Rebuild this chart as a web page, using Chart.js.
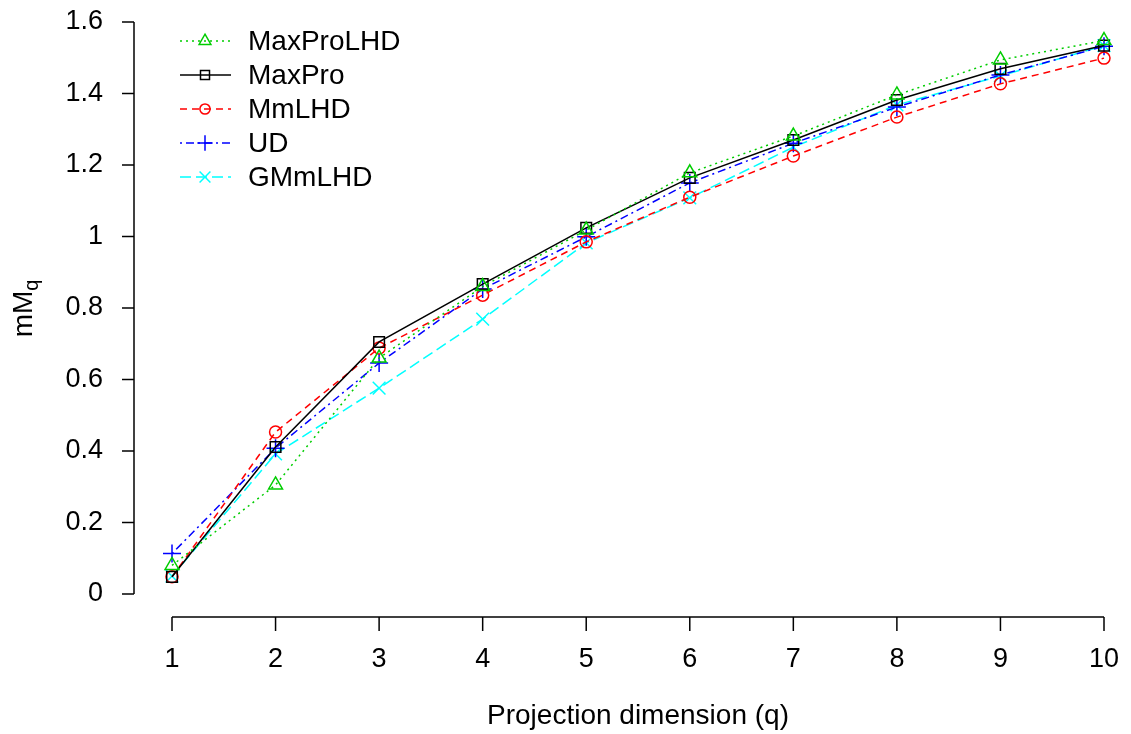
<!DOCTYPE html>
<html>
<head>
<meta charset="utf-8">
<script src="https://cdn.jsdelivr.net/npm/chart.js@4/dist/chart.umd.min.js"></script>
<style>
  html, body { margin: 0; padding: 0; background: #fff; }
  #wrap { width: 1131px; height: 734px; }
</style>
</head>
<body>
<div id="wrap"><canvas id="myChart" width="1131" height="734"></canvas></div>
<script>
// data
let dims = [1, 2, 3, 4, 5, 6, 7, 8, 9, 10];
let maxProLHD = [0.08, 0.305, 0.66, 0.86, 1.018, 1.178, 1.281, 1.396, 1.494, 1.548];
let maxPro    = [0.048, 0.411, 0.705, 0.867, 1.024, 1.164, 1.27, 1.382, 1.469, 1.534];
let mmLHD     = [0.048, 0.453, 0.688, 0.836, 0.985, 1.11, 1.225, 1.334, 1.427, 1.499];
let ud        = [0.113, 0.408, 0.646, 0.853, 0.999, 1.15, 1.261, 1.362, 1.452, 1.532];
let gmmLHD    = [0.05, 0.392, 0.576, 0.769, 0.982, 1.108, 1.25, 1.368, 1.449, 1.534];
let yTicks = [0, 0.2, 0.4, 0.6, 0.8, 1, 1.2, 1.4, 1.6];

const FONT = '"Liberation Sans", Arial, sans-serif';

function pts(vals) {
    return vals.map((v, i) => ({ x: dims[i], y: v }));
}

let series = [
    { label: 'MaxProLHD', data: maxProLHD, color: '#00CD00', dash: [2, 4], style: 'triangle', r: 8 },
    { label: 'MaxPro', data: maxPro, color: '#000000', dash: [], style: 'rect', r: 7.5 },
    { label: 'MmLHD', data: mmLHD, color: '#FF0000', dash: [7, 5], style: 'circle', r: 6 },
    { label: 'UD', data: ud, color: '#0000FF', dash: [2, 4, 8, 4], style: 'cross', r: 9 },
    { label: 'GMmLHD', data: gmmLHD, color: '#00FFFF', dash: [11, 5], style: 'crossRot', r: 9 },
];

// R-style detached axes, labels and legend
const rAxes = {
    id: 'rAxes',
    afterDraw(chart) {
        const c = chart.ctx;
        const xs = chart.scales.x, ys = chart.scales.y;
        c.save();
        c.strokeStyle = '#000';
        c.lineWidth = 1.5;
        c.setLineDash([]);
        c.fillStyle = '#000';

        // y axis
        let ax = xs.left - 38;
        c.beginPath();
        c.moveTo(ax, ys.getPixelForValue(0));
        c.lineTo(ax, ys.getPixelForValue(1.6));
        c.stroke();
        c.font = '27px ' + FONT;
        c.textAlign = 'right';
        c.textBaseline = 'middle';
        yTicks.forEach(t => {
            let py = ys.getPixelForValue(t);
            c.beginPath();
            c.moveTo(ax - 12, py);
            c.lineTo(ax, py);
            c.stroke();
            c.fillText(String(t), ax - 31, py);
        });

        // x axis
        let ay = ys.bottom + 23;
        c.beginPath();
        c.moveTo(xs.getPixelForValue(1), ay);
        c.lineTo(xs.getPixelForValue(10), ay);
        c.stroke();
        c.textAlign = 'center';
        c.textBaseline = 'middle';
        dims.forEach(d => {
            let px = xs.getPixelForValue(d);
            c.beginPath();
            c.moveTo(px, ay);
            c.lineTo(px, ay + 14);
            c.stroke();
            c.fillText(String(d), px, ay + 43);
        });

        // axis titles
        c.font = '28px ' + FONT;
        c.fillText('Projection dimension (q)', (xs.left + xs.right) / 2, ay + 99);
        c.save();
        c.translate(32, 308);
        c.rotate(-Math.PI / 2);
        c.textAlign = 'left';
        c.textBaseline = 'alphabetic';
        let w = c.measureText('mM').width;
        c.fillText('mM', -(w + 12) / 2, 0);
        c.font = '20px ' + FONT;
        c.fillText('q', -(w + 12) / 2 + w, 6);
        c.restore();

        // legend
        c.font = '28px ' + FONT;
        c.textAlign = 'left';
        c.textBaseline = 'middle';
        series.forEach((s, i) => {
            let ly = 41 + i * 34;
            c.strokeStyle = s.color;
            c.lineWidth = 1.5;
            c.setLineDash(s.dash);
            c.beginPath();
            c.moveTo(180, ly);
            c.lineTo(231, ly);
            c.stroke();
            c.setLineDash([]);
            c.fillStyle = 'rgba(0,0,0,0)';
            Chart.helpers.drawPoint(c, { pointStyle: s.style, radius: s.r * 0.85, borderWidth: 1.5, rotation: 0 }, 205, ly);
            c.fillStyle = '#000';
            c.fillText(s.label, 248, ly + 1);
        });
        c.restore();
    }
};

let ctx = document.getElementById('myChart').getContext('2d');
let myChart = new Chart(ctx, {
    type: 'line',
    data: {
        datasets: series.map(s => ({
            label: s.label,
            data: pts(s.data),
            borderColor: s.color,
            backgroundColor: 'rgba(0,0,0,0)',
            borderWidth: 1.5,
            borderDash: s.dash,
            pointStyle: s.style,
            pointRadius: s.r,
            pointBorderColor: s.color,
            pointBackgroundColor: 'rgba(0,0,0,0)',
            pointBorderWidth: 1.5,
            tension: 0,
            fill: false,
            clip: false
        }))
    },
    options: {
        responsive: false,
        animation: false,
        layout: { padding: { left: 172, right: 27, top: 22, bottom: 140 } },
        plugins: { legend: { display: false }, tooltip: { enabled: false } },
        scales: {
            x: { type: 'linear', min: 1, max: 10, display: false },
            y: { type: 'linear', min: 0, max: 1.6, display: false }
        }
    },
    plugins: [rAxes]
});
</script>
</body>
</html>
